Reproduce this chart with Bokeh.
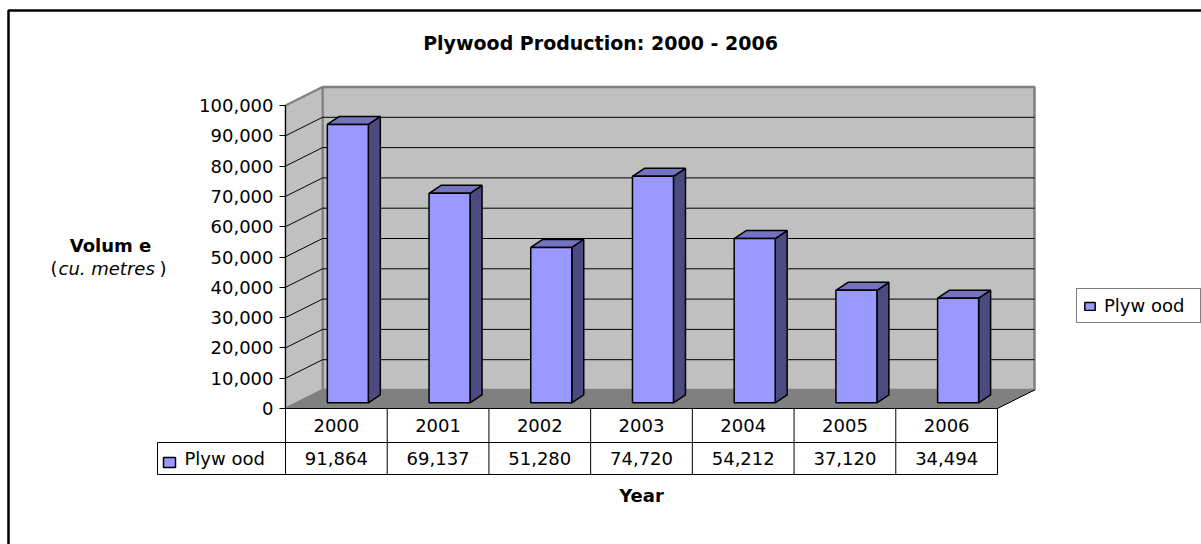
import numpy as np
from bokeh.plotting import figure
from bokeh.models import (Range1d, LinearAxis, FixedTicker, NumeralTickFormatter,
                          Legend, LegendItem)
from bokeh.core.properties import value
from bokeh.embed import file_html
from bokeh.resources import INLINE

# ---- data -------------------------------------------------------------
years = ["2000", "2001", "2002", "2003", "2004", "2005", "2006"]
production = [91864, 69137, 51280, 74720, 54212, 37120, 34494]
y_ticks = [0, 10000, 20000, 30000, 40000, 50000, 60000, 70000, 80000, 90000, 100000]
series_name = "Plyw ood"
chart_title = "Plywood Production: 2000 - 2006"
y_title = "Volum e"
x_title = "Year"

# ---- page layout (pixels) --------------------------------------------
W, H = 1201, 544
PLOT_LEFT, PLOT_RIGHT = 285, 997      # front plane of the 3-D box
BASE_Y, TOP_Y = 408, 105              # y of 0 and of the axis maximum
Y_MAX = y_ticks[-1]
ROW_MID, ROW_BOT = 442, 474           # data table rows
LABEL_CELL_W = 128                    # width of the series-name cell

FONT = value("DejaVu Sans")
FS = "18px"

n = len(years)
ux = (PLOT_RIGHT - PLOT_LEFT) / n      # pixels per category
uy = (BASE_Y - TOP_Y) / Y_MAX          # pixels per cubic metre
xl, xr = -0.5, n - 0.5
x_start = xl - PLOT_LEFT / ux
x_end = x_start + W / ux
y_end = BASE_Y / uy
y_start = y_end - H / uy

# depth of the box and of the columns, converted to data units
WALL_DX, WALL_DY = 37 / ux, 18.5 / uy
BAR_W = 41 / ux
BAR_F = 0.31
BAR_DX, BAR_DY = 12 / ux, 8 / uy

p = figure(width=W, height=H, x_range=Range1d(x_start, x_end),
           y_range=Range1d(y_start, y_end), x_axis_type=None, y_axis_type=None,
           toolbar_location=None, output_backend="svg", min_border=0,
           title=None, outline_line_color=None, background_fill_color="white")
p.extra_x_ranges = {"px": Range1d(0, W)}
p.extra_y_ranges = {"py": Range1d(H, 0)}

# ---- chart frame -----------------------------------------------------
p.line([8, 8, W], [H, 10, 10], x_range_name="px", y_range_name="py",
       line_color="black", line_width=2.5)

# ---- 3-D box: back wall, side wall, floor ---------------------------
p.patch([xl + WALL_DX, xr + WALL_DX, xr + WALL_DX, xl + WALL_DX],
        [WALL_DY, WALL_DY, Y_MAX + WALL_DY, Y_MAX + WALL_DY],
        fill_color="#C0C0C0", line_color="#808080", line_width=2.5)
p.patch([xl, xl, xl + WALL_DX, xl + WALL_DX],
        [0, Y_MAX, Y_MAX + WALL_DY, WALL_DY],
        fill_color="#C0C0C0", line_color="#808080", line_width=2)
p.patch([xl, xr, xr + WALL_DX, xl + WALL_DX],
        [0, 0, WALL_DY, WALL_DY],
        fill_color="#808080", line_color=None)
p.line([xr, xr + WALL_DX], [0, WALL_DY], line_color="black", line_width=1)

# gridlines on the back wall and the side wall
grid = np.array(y_ticks[1:-1], dtype=float)
p.segment(x0=np.full(len(grid), xl + WALL_DX), y0=grid + WALL_DY,
          x1=np.full(len(grid), xr + WALL_DX), y1=grid + WALL_DY,
          line_color="black", line_width=1)
p.segment(x0=np.full(len(grid), xl), y0=grid,
          x1=np.full(len(grid), xl + WALL_DX), y1=grid + WALL_DY,
          line_color="black", line_width=1)

# ---- columns ---------------------------------------------------------
vals = np.array(production, dtype=float)
cx = np.arange(n) + BAR_F * WALL_DX
left, right = cx - BAR_W / 2, cx + BAR_W / 2
bottom = BAR_F * WALL_DY
top = vals + bottom

side_xs = [[r, r + BAR_DX, r + BAR_DX, r] for r in right]
side_ys = [[bottom, bottom + BAR_DY, t + BAR_DY, t] for t in top]
p.patches(side_xs, side_ys, fill_color="#4B4B80", line_color="black", line_width=1.5)
top_xs = [[l, r, r + BAR_DX, l + BAR_DX] for l, r in zip(left, right)]
top_ys = [[t, t, t + BAR_DY, t + BAR_DY] for t in top]
p.patches(top_xs, top_ys, fill_color="#7373BF", line_color="black", line_width=1.5)
front = p.quad(left=left, right=right, bottom=bottom, top=top,
               fill_color="#9999FF", line_color="black", line_width=1.5)

# ---- value axis --------------------------------------------------------
yaxis = LinearAxis(fixed_location=xl, bounds=(0, Y_MAX),
                   ticker=FixedTicker(ticks=y_ticks),
                   formatter=NumeralTickFormatter(format="0,0"))
yaxis.major_tick_out = 6
yaxis.major_tick_in = 0
yaxis.minor_tick_out = 0
yaxis.minor_tick_in = 0
yaxis.major_label_standoff = 6
yaxis.major_label_text_font = "DejaVu Sans"
yaxis.major_label_text_font_size = FS
yaxis.major_label_text_color = "black"
yaxis.axis_line_color = "black"
yaxis.major_tick_line_color = "black"
p.add_layout(yaxis, "left")

# ---- data table ------------------------------------------------------
edges = np.arange(n + 1) - 0.5
p.segment(x0=edges, y0=np.full(n + 1, BASE_Y), x1=edges, y1=np.full(n + 1, ROW_BOT),
          y_range_name="py", line_color="black", line_width=1)
x_cell = xl - LABEL_CELL_W / ux
p.segment(x0=[xl, x_cell, x_cell, x_cell], y0=[BASE_Y, ROW_MID, ROW_BOT, ROW_MID],
          x1=[xr, xr, xr, x_cell], y1=[BASE_Y, ROW_MID, ROW_BOT, ROW_BOT],
          y_range_name="py", line_color="black", line_width=1)

p.text(x=np.arange(n), y=np.full(n, (BASE_Y + ROW_MID) / 2), text=years,
       y_range_name="py", text_align="center", text_baseline="middle",
       text_font=FONT, text_font_size=FS, text_color="black")
p.text(x=np.arange(n), y=np.full(n, (ROW_MID + ROW_BOT) / 2),
       text=[f"{v:,}" for v in production],
       y_range_name="py", text_align="center", text_baseline="middle",
       text_font=FONT, text_font_size=FS, text_color="black")

# series key inside the table
p.quad(left=[163], right=[175], top=[457], bottom=[467],
       x_range_name="px", y_range_name="py",
       fill_color="#9999FF", line_color="black", line_width=1.5)
p.text(x=[184], y=[(ROW_MID + ROW_BOT) / 2], text=[series_name],
       x_range_name="px", y_range_name="py", text_align="left",
       text_baseline="middle", text_font=FONT, text_font_size=FS, text_color="black")

# ---- titles ----------------------------------------------------------
p.text(x=[600], y=[42], text=[chart_title], x_range_name="px", y_range_name="py",
       text_align="center", text_baseline="middle", text_font=FONT,
       text_font_size="19px", text_font_style="bold", text_color="black")
p.text(x=[(n - 1) / 2], y=[495], text=[x_title], y_range_name="py",
       text_align="center", text_baseline="middle", text_font=FONT,
       text_font_size=FS, text_font_style="bold", text_color="black")
p.text(x=[110], y=[245], text=[y_title], x_range_name="px", y_range_name="py",
       text_align="center", text_baseline="middle", text_font=FONT,
       text_font_size=FS, text_font_style="bold", text_color="black")
p.text(x=[50], y=[268], text=["("], x_range_name="px", y_range_name="py",
       text_align="left", text_baseline="middle", text_font=FONT,
       text_font_size=FS, text_color="black")
p.text(x=[58], y=[268], text=["cu. metres"], x_range_name="px", y_range_name="py",
       text_align="left", text_baseline="middle", text_font=FONT,
       text_font_size=FS, text_font_style="italic", text_color="black")
p.text(x=[159], y=[268], text=[")"], x_range_name="px", y_range_name="py",
       text_align="left", text_baseline="middle", text_font=FONT,
       text_font_size=FS, text_color="black")

# ---- legend ----------------------------------------------------------
legend = Legend(items=[LegendItem(label=series_name, renderers=[front])],
                location=(1076, H - 323), margin=0, padding=6, spacing=0,
                glyph_width=13, glyph_height=10, label_standoff=8,
                label_width=90, label_height=18,
                label_text_font="DejaVu Sans", label_text_font_size=FS,
                label_text_color="black",
                border_line_color="black", border_line_width=1,
                background_fill_color="white", background_fill_alpha=1)
p.add_layout(legend)

open("out.html", "w").write(file_html(p, INLINE))
